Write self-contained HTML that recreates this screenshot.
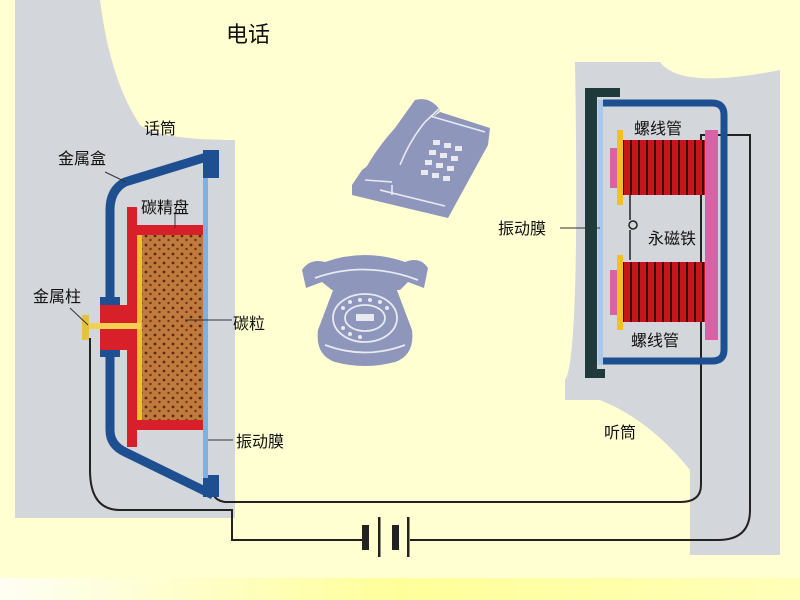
<!DOCTYPE html>
<html><head><meta charset="utf-8"><style>
html,body{margin:0;padding:0;background:#ffffd2;}
svg{display:block}
text{font-family:"Liberation Sans","Noto Sans CJK SC",sans-serif;font-size:16px;fill:#111}
</style></head><body>
<svg width="800" height="600" viewBox="0 0 800 600">
<defs>
<linearGradient id="bg" x1="0" x2="1"><stop offset="0" stop-color="#fefef4"/><stop offset="0.5" stop-color="#ffff9a"/><stop offset="1" stop-color="#ffffb8"/></linearGradient>
<pattern id="dots" width="9" height="9" patternUnits="userSpaceOnUse"><rect width="9" height="9" fill="#c07a3e"/><circle cx="2" cy="2" r="1.4" fill="#5a2a10"/><circle cx="6.5" cy="6" r="1.2" fill="#6a3414"/></pattern>
<pattern id="coil" width="8" height="10" patternUnits="userSpaceOnUse"><rect width="8" height="10" fill="#c8141c"/><rect x="6" width="2" height="10" fill="#3a0808"/></pattern>
</defs>
<rect width="800" height="578" fill="#ffffd2"/>
<rect y="578" width="800" height="22" fill="url(#bg)"/>
<!-- left gray -->
<path d="M15 0 H100 Q110 80 140 125 Q160 140 235 140 V518 H15 Z" fill="#d3d6da"/>
<!-- right gray -->
<path d="M575 62 H660 Q680 90 780 70 V555 H690 V470 Q650 420 600 400 H565 V380 Q580 360 575 62 Z" fill="#d3d6da"/>
<!-- wires -->
<g fill="none" stroke="#222" stroke-width="2">
<path d="M90 338 V470 Q90 510 120 510 H232 V540 H365"/>
<path d="M410 540 H718 Q750 540 750 510 V135 H701 V485 Q701 502 680 502 H225 Q212 500 212 488"/>
</g>
<g fill="#222"><rect x="362" y="525" width="7" height="25"/><rect x="378" y="517" width="2.5" height="40"/><rect x="392" y="525" width="7" height="25"/><rect x="407" y="517" width="2.5" height="40"/></g>
<!-- microphone -->
<path d="M213 155 L125 182 Q110 190 110 210 V430 Q110 445 125 452 L213 495" fill="none" stroke="#1d4f91" stroke-width="9"/>
<rect x="203" y="150" width="16" height="28" fill="#1d4f91"/>
<rect x="203" y="475" width="16" height="22" fill="#1d4f91"/>
<rect x="100" y="297" width="20" height="60" fill="#1d4f91"/>
<rect x="203" y="178" width="5" height="300" fill="#7fb0e0"/>
<rect x="140" y="235" width="63" height="186" fill="url(#dots)"/>
<g fill="#d8202a"><rect x="127" y="207" width="10" height="240"/><rect x="137" y="225" width="66" height="10"/><rect x="137" y="420" width="66" height="10"/><rect x="100" y="305" width="37" height="45"/></g>
<rect x="137" y="235" width="5" height="185" fill="#f2c020"/>
<rect x="82" y="315" width="7" height="25" fill="#e8c040"/>
<rect x="89" y="323" width="52" height="6" fill="#f2d050"/>
<g stroke="#333" stroke-width="1"><line x1="105" y1="172" x2="126" y2="182"/><line x1="175" y1="212" x2="175" y2="228"/><line x1="70" y1="308" x2="88" y2="325"/><line x1="185" y1="320" x2="232" y2="320"/><line x1="208" y1="440" x2="233" y2="440"/></g>
<!-- receiver -->
<path d="M603 103 H712 Q724 103 724 115 V350 Q724 361 712 361 H603" fill="none" stroke="#1d4f91" stroke-width="7"/>
<rect x="585" y="88" width="35" height="9" fill="#1e3a3a"/><rect x="585" y="88" width="12" height="290" fill="#1e3a3a"/><rect x="585" y="369" width="20" height="9" fill="#1e3a3a"/>
<rect x="598" y="100" width="5" height="265" fill="#a8c8ee"/>
<rect x="705" y="130" width="13" height="210" fill="#d862a6"/>
<rect x="622" y="140" width="83" height="55" fill="url(#coil)"/>
<rect x="622" y="262" width="83" height="60" fill="url(#coil)"/>
<rect x="610" y="148" width="8" height="40" fill="#d862a6"/><rect x="610" y="270" width="8" height="45" fill="#d862a6"/>
<rect x="617" y="130" width="6" height="75" fill="#f2c020"/><rect x="617" y="255" width="6" height="75" fill="#f2c020"/>
<path d="M630 195 V220 M630 230 V260" stroke="#222" stroke-width="1.5"/><circle cx="633" cy="225" r="4" fill="none" stroke="#222" stroke-width="1.5"/>
<line x1="560" y1="228" x2="600" y2="228" stroke="#333"/>
<!-- phone 1 (push-button) -->
<g fill="#8e96bc">
<path d="M352 185 L362 170 L440 112 L490 128 L488 145 L448 218 L352 195 Z"/>
<path d="M362 175 Q375 150 395 128 L415 100 Q430 96 440 110 L425 125 Q410 140 400 165 L392 190 Z"/>
</g>
<g fill="none" stroke="#e8eaf0" stroke-width="1.6">
<path d="M365 180 L392 182"/><path d="M400 165 Q410 140 425 122 L440 108"/><path d="M430 116 L485 132"/><path d="M380 190 L445 206"/><path d="M392 185 L392 195"/></g>
<g fill="#e8eaf0"><rect x="433" y="140" width="7" height="5"/><rect x="444" y="143" width="7" height="5"/><rect x="455" y="146" width="7" height="5"/><rect x="429" y="150" width="7" height="5"/><rect x="440" y="153" width="7" height="5"/><rect x="451" y="156" width="7" height="5"/><rect x="425" y="160" width="7" height="5"/><rect x="436" y="163" width="7" height="5"/><rect x="447" y="166" width="7" height="5"/><rect x="421" y="170" width="7" height="5"/><rect x="432" y="173" width="7" height="5"/><rect x="443" y="176" width="7" height="5"/></g>
<!-- phone 2 (rotary) -->
<g fill="#8e96bc">
<path d="M302 270 Q310 258 325 262 Q365 248 405 262 Q420 256 428 268 L424 288 L408 282 L400 290 L332 290 L322 282 L306 288 Z"/>
<path d="M335 285 L395 285 L412 330 Q415 355 395 362 Q365 370 335 362 Q315 355 318 330 Z"/>
</g>
<g fill="none" stroke="#e8eaf0" stroke-width="1.8"><path d="M315 278 Q365 260 418 280"/><ellipse cx="365" cy="318" rx="32" ry="24"/><ellipse cx="365" cy="318" rx="20" ry="13"/><path d="M325 345 Q365 360 405 345"/></g>
<g fill="#e8eaf0"><rect x="356" y="314" width="18" height="7"/>
<circle cx="343" cy="308" r="2"/><circle cx="350" cy="302" r="2"/><circle cx="360" cy="300" r="2"/><circle cx="370" cy="300" r="2"/><circle cx="380" cy="302" r="2"/><circle cx="387" cy="308" r="2"/><circle cx="343" cy="328" r="2"/><circle cx="350" cy="334" r="2"/><circle cx="360" cy="337" r="2"/></g>
<!-- labels -->
<text x="226" y="42" style="font-size:22px">电话</text>
<text x="144" y="134">话筒</text>
<text x="58" y="164">金属盒</text>
<text x="141" y="213">碳精盘</text>
<text x="33" y="302">金属柱</text>
<text x="233" y="329">碳粒</text>
<text x="236" y="447">振动膜</text>
<text x="634" y="134">螺线管</text>
<text x="648" y="244">永磁铁</text>
<text x="631" y="346">螺线管</text>
<text x="498" y="234">振动膜</text>
<text x="604" y="438">听筒</text>
</svg>
</body></html>
